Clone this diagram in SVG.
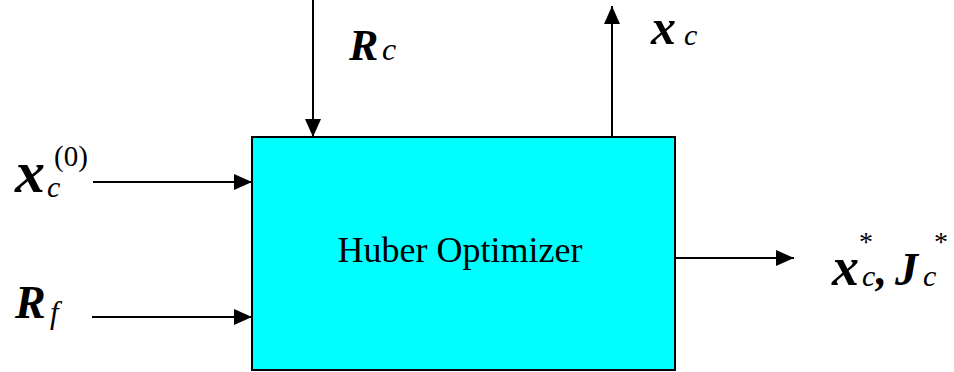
<svg xmlns="http://www.w3.org/2000/svg" width="954" height="372" viewBox="0 0 954 372">
<defs>
<marker id="ah" viewBox="0 0 18 16" refX="18" refY="8" markerWidth="18" markerHeight="16" markerUnits="userSpaceOnUse" orient="auto">
<path d="M0,0 L18,8 L0,16 Z" fill="#000"/>
</marker>
</defs>
<rect x="0" y="0" width="954" height="372" fill="#ffffff"/>
<g id="optimizer">
<rect x="252" y="137" width="423" height="233" fill="#00FFFF" stroke="#000" stroke-width="2"/>
<text x="460" y="262" text-anchor="middle" font-family="Times New Roman, Liberation Serif, serif" font-size="36" fill="#000">Huber Optimizer</text>
</g>
<g id="connectors" stroke="#000" stroke-width="2" fill="none">
<line x1="93" y1="182" x2="252" y2="182" marker-end="url(#ah)"/>
<line x1="92" y1="317" x2="252" y2="317" marker-end="url(#ah)"/>
<line x1="313" y1="0" x2="313" y2="137" marker-end="url(#ah)"/>
<line x1="612" y1="137" x2="612" y2="6" marker-end="url(#ah)"/>
<line x1="675" y1="258" x2="794" y2="258" marker-end="url(#ah)"/>
</g>
<g id="label-xc0">
<text x="15" y="192" font-family="Times New Roman, Liberation Serif, serif" font-weight="bold" font-style="italic" font-size="60">x</text>
<text x="47" y="197" font-family="Times New Roman, Liberation Serif, serif" font-style="italic" font-size="30">c</text>
<text x="54" y="166" font-family="Times New Roman, Liberation Serif, serif" font-size="29">(0)</text>
</g>
<g id="label-Rf">
<text x="15" y="318" font-family="Times New Roman, Liberation Serif, serif" font-weight="bold" font-style="italic" font-size="46">R</text>
<text x="50" y="323" font-family="Times New Roman, Liberation Serif, serif" font-style="italic" font-size="31">f</text>
</g>
<g id="label-Rc">
<text x="349" y="60" font-family="Times New Roman, Liberation Serif, serif" font-weight="bold" font-style="italic" font-size="44">R</text>
<text x="382" y="60" font-family="Times New Roman, Liberation Serif, serif" font-style="italic" font-size="32">c</text>
</g>
<g id="label-xc">
<text x="651" y="44" font-family="Times New Roman, Liberation Serif, serif" font-weight="bold" font-style="italic" font-size="50">x</text>
<text x="684" y="45" font-family="Times New Roman, Liberation Serif, serif" font-style="italic" font-size="30">c</text>
</g>
<g id="label-out">
<text x="832" y="285" font-family="Times New Roman, Liberation Serif, serif" font-weight="bold" font-style="italic" font-size="54">x</text>
<text x="862" y="286" font-family="Times New Roman, Liberation Serif, serif" font-style="italic" font-size="30">c</text>
<text x="876" y="285" font-family="Times New Roman, Liberation Serif, serif" font-weight="bold" font-style="italic" font-size="44">,</text>
<text x="895" y="285" font-family="Times New Roman, Liberation Serif, serif" font-weight="bold" font-style="italic" font-size="46">J</text>
<text x="923" y="286" font-family="Times New Roman, Liberation Serif, serif" font-style="italic" font-size="30">c</text>
<text x="859" y="251" font-family="Times New Roman, Liberation Serif, serif" font-size="28">*</text>
<text x="934" y="251" font-family="Times New Roman, Liberation Serif, serif" font-size="28">*</text>
</g>
</svg>
